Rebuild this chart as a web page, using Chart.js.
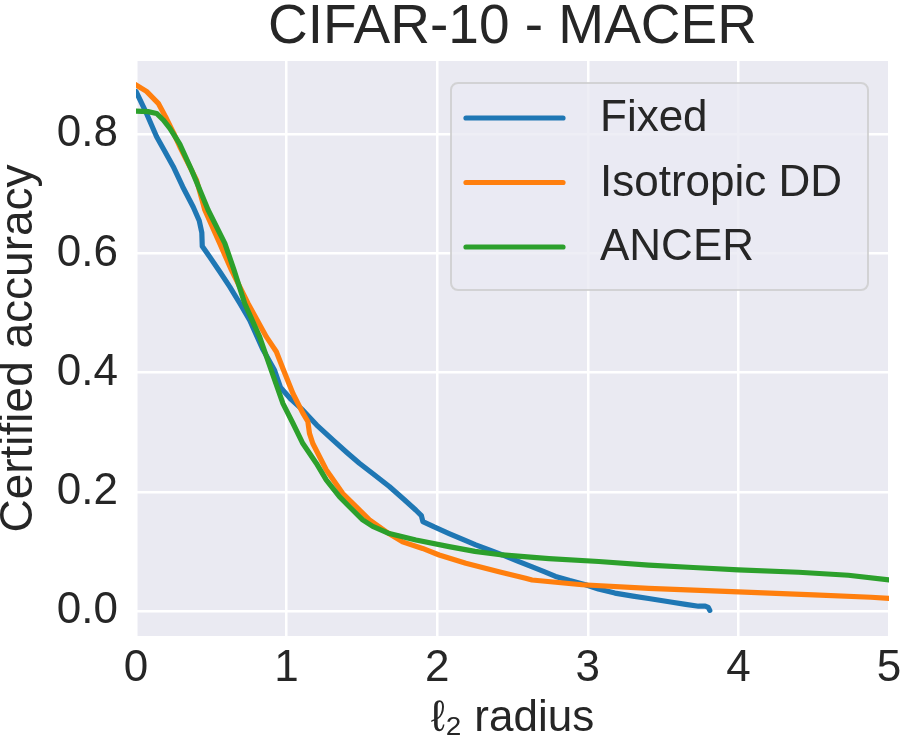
<!DOCTYPE html>
<html><head><meta charset="utf-8">
<script src="https://cdn.jsdelivr.net/npm/chart.js@4.4.1/dist/chart.umd.min.js"></script>
<style>html,body{margin:0;padding:0;background:#fff}canvas{display:block}</style>
</head><body>
<canvas id="c" width="900" height="750"></canvas>
<script>
const chartTitle = 'CIFAR-10 - MACER';
const xAxisTitle = 'ℓ₂ radius';
const yAxisTitle = 'Certified accuracy';
const seriesNames = ['Fixed', 'Isotropic DD', 'ANCER'];

const fixedX = [0,0.07,0.137,0.19,0.247,0.31,0.38,0.42,0.437,0.44,0.49,0.56,0.623,0.69,0.755,0.84,0.92,0.96,1.03,1.108,1.2,1.307,1.4,1.483,1.58,1.682,1.78,1.859,1.895,1.905,1.98,2.079,2.17,2.256,2.35,2.433,2.53,2.631,2.71,2.786,2.88,2.985,3.07,3.18,3.3,3.404,3.55,3.65,3.735,3.78,3.8,3.81];
const fixedY = [0.872,0.835,0.796,0.772,0.746,0.712,0.678,0.655,0.635,0.612,0.594,0.568,0.544,0.516,0.488,0.44,0.404,0.375,0.355,0.337,0.312,0.287,0.266,0.248,0.229,0.209,0.187,0.169,0.16,0.15,0.141,0.13,0.12,0.111,0.102,0.094,0.084,0.074,0.066,0.058,0.051,0.044,0.037,0.03,0.025,0.021,0.015,0.011,0.008,0.008,0.006,0.001];

const isoX = [0,0.07,0.148,0.203,0.25,0.291,0.402,0.457,0.556,0.634,0.744,0.866,0.932,0.98,1.042,1.108,1.141,1.152,1.174,1.263,1.373,1.461,1.55,1.66,1.77,1.903,2.013,2.19,2.41,2.587,2.63,2.962,3.404,4.0,4.5,4.88,5.0];
const isoY = [0.883,0.872,0.852,0.826,0.802,0.779,0.723,0.673,0.617,0.572,0.516,0.46,0.435,0.404,0.365,0.332,0.318,0.298,0.281,0.237,0.197,0.175,0.153,0.133,0.116,0.105,0.094,0.08,0.066,0.055,0.052,0.044,0.038,0.032,0.027,0.023,0.021];

const ancerX = [0,0.08,0.137,0.181,0.225,0.29,0.369,0.479,0.59,0.651,0.722,0.821,0.898,0.976,1.042,1.108,1.197,1.263,1.351,1.417,1.505,1.572,1.682,1.859,2.079,2.25,2.433,2.742,3.073,3.404,3.7,4.0,4.4,4.73,5.0];
const ancerY = [0.839,0.838,0.835,0.824,0.81,0.784,0.74,0.673,0.617,0.572,0.516,0.46,0.404,0.348,0.315,0.281,0.248,0.22,0.192,0.175,0.153,0.142,0.13,0.119,0.108,0.1,0.094,0.088,0.083,0.077,0.073,0.069,0.065,0.06,0.052];

const xTicks = [0, 1, 2, 3, 4, 5];
const yTicks = [0.0, 0.2, 0.4, 0.6, 0.8];
const xRange = [0, 5];
const yRange = [-0.042, 0.923];

const seriesColors = ['#1f77b4', '#ff7f0e', '#2ca02c'];
const textColor = '#262626';
const FONT = "'Liberation Sans', Arial, 'DejaVu Sans', sans-serif";

const toPts = (xs, ys) => xs.map((x, i) => ({x: x, y: ys[i]}));
const allX = [fixedX, isoX, ancerX];
const allY = [fixedY, isoY, ancerY];

const datasets = seriesNames.map((name, i) => ({
  label: name,
  data: toPts(allX[i], allY[i]),
  borderColor: seriesColors[i],
  backgroundColor: seriesColors[i],
  borderWidth: 5.2,
  pointRadius: 0,
  showLine: true,
  tension: 0,
  borderCapStyle: 'round',
  borderJoinStyle: 'round',
  order: seriesNames.length - i
}));

const bgPlugin = {
  id: 'bg',
  beforeDraw(chart) {
    const {ctx, chartArea: a} = chart;
    ctx.save();
    ctx.fillStyle = '#eaeaf2';
    ctx.fillRect(a.left, a.top, a.right - a.left, a.bottom - a.top);
    ctx.restore();
  }
};

// Title centred over the plotting area (as matplotlib does)
const titlePlugin = {
  id: 'axesTitle',
  afterDraw(chart) {
    const {ctx, chartArea: a} = chart;
    ctx.save();
    ctx.font = '55px ' + FONT;
    ctx.fillStyle = textColor;
    ctx.textAlign = 'center';
    ctx.textBaseline = 'middle';
    ctx.fillText(chartTitle, (a.left + a.right) / 2, a.top - 33);
    ctx.restore();
  }
};

const legendPlugin = {
  id: 'innerLegend',
  afterDraw(chart) {
    const {ctx, chartArea: a} = chart;
    const right = a.right - 21, top = a.top + 22;
    const w = 417, h = 207, left = right - w;
    ctx.save();
    ctx.beginPath();
    if (ctx.roundRect) ctx.roundRect(left, top, w, h, 7); else ctx.rect(left, top, w, h);
    ctx.fillStyle = 'rgba(234,234,242,0.8)';
    ctx.fill();
    ctx.lineWidth = 2;
    ctx.strokeStyle = 'rgba(204,204,204,0.8)';
    ctx.stroke();
    ctx.font = '44px ' + FONT;
    ctx.textBaseline = 'middle';
    ctx.textAlign = 'left';
    chart.data.datasets.forEach((ds, i) => {
      const y = top + 35 + i * 64.5;
      ctx.beginPath();
      ctx.moveTo(left + 15, y);
      ctx.lineTo(left + 112, y);
      ctx.lineWidth = 5.2;
      ctx.lineCap = 'round';
      ctx.strokeStyle = ds.borderColor;
      ctx.stroke();
      ctx.fillStyle = textColor;
      ctx.fillText(ds.label, left + 149, y + 1);
    });
    ctx.restore();
  }
};

new Chart(document.getElementById('c'), {
  type: 'scatter',
  data: {datasets: datasets},
  plugins: [bgPlugin, titlePlugin, legendPlugin],
  options: {
    responsive: false,
    animation: false,
    events: [],
    layout: {padding: {top: 61, left: 0, right: 0, bottom: 0}},
    plugins: {
      legend: {display: false},
      tooltip: {enabled: false},
      title: {display: false}
    },
    scales: {
      x: {
        type: 'linear',
        min: xRange[0], max: xRange[1],
        afterBuildTicks(s) { s.ticks = xTicks.map(v => ({value: v})); },
        afterFit(s) { s.height = 114; s.paddingRight = 11; s.paddingLeft = 0; },
        grid: {color: '#ffffff', lineWidth: 2.5, drawTicks: false},
        border: {display: false},
        ticks: {
          color: textColor, padding: 6,
          font: {family: FONT, size: 44, lineHeight: 1.2},
          maxRotation: 0, autoSkip: false,
          callback: v => String(v)
        },
        title: {
          display: true, text: xAxisTitle, color: textColor,
          font: {family: FONT, size: 44, lineHeight: 1.0},
          padding: {top: 0, bottom: 9}
        }
      },
      y: {
        type: 'linear',
        min: yRange[0], max: yRange[1],
        afterBuildTicks(s) { s.ticks = yTicks.map(v => ({value: v})); },
        afterFit(s) { s.width = 136; },
        grid: {color: '#ffffff', lineWidth: 2.5, drawTicks: false},
        border: {display: false},
        ticks: {
          color: textColor, padding: 18,
          font: {family: FONT, size: 44, lineHeight: 1.2},
          autoSkip: false,
          callback: v => Number(v).toFixed(1)
        },
        title: {
          display: true, text: yAxisTitle, color: textColor,
          font: {family: FONT, size: 46, lineHeight: 0.82},
          padding: {top: 0, bottom: 0}
        }
      }
    }
  }
});
</script>
</body></html>
